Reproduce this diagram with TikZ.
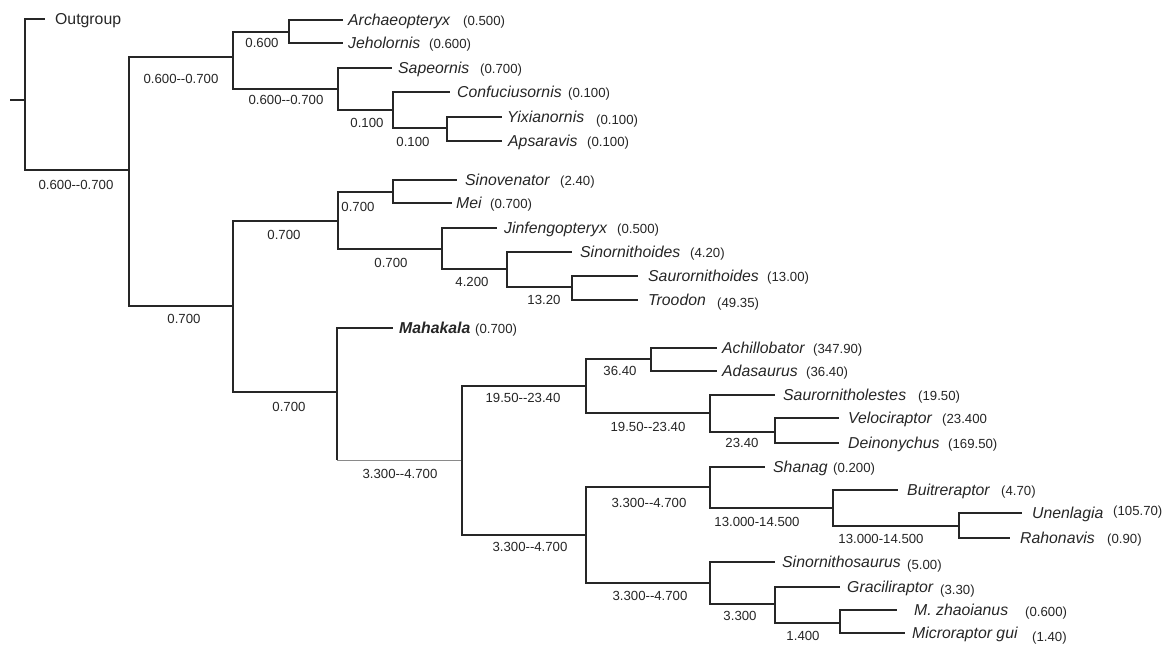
\documentclass[tikz,border=0pt]{standalone}
\usepackage{fontspec}
\setmainfont{Liberation Sans}
\definecolor{ink}{HTML}{262626}
\definecolor{thin}{HTML}{8A8A8A}
\newcommand\dd{-\kern0pt-}
\tikzset{
  br/.style={draw=ink, line width=1.5pt, line join=miter},
  lightbr/.style={draw=thin, line width=0.9pt},
  taxon/.style={anchor=west, inner sep=0pt, text height=11.3pt, text depth=0pt,
    font=\fontsize{15.8}{18}\selectfont\itshape, text=ink},
  val/.style={anchor=west, inner sep=0pt, text height=11.3pt, text depth=0pt,
    font=\fontsize{13.2}{15}\selectfont, text=ink},
  lab/.style={anchor=center, inner sep=0pt, text height=9.45pt, text depth=0pt,
    font=\fontsize{13.2}{15}\selectfont, text=ink},
}
% name, line end x, y, text x, text, value x, value, value dy
\newcommand\leafnode[8]{%
  \coordinate (#1) at (#2,#3);
  \node[taxon] (#1t) at (#4,#3) {#5};
  \node[val] (#1v) at (#6,#3+#8) {#7};
}
\begin{document}
\begin{tikzpicture}[x=1pt,y=-1pt]
\fill[white] (0,0) rectangle (1167,649);
\useasboundingbox (0,0) rectangle (1167,649);

% internal nodes
\coordinate (stub) at (10,100);
\coordinate (root) at (25,100);
\coordinate (A) at (129,170);
\coordinate (B) at (233,57);
\coordinate (C) at (289,32);
\coordinate (D) at (338,89);
\coordinate (E) at (393,110);
\coordinate (F) at (447,128);
\coordinate (G) at (233,306);
\coordinate (H) at (338,221);
\coordinate (I) at (393,192);
\coordinate (J) at (442,249);
\coordinate (K) at (507,269);
\coordinate (L) at (572,287);
\coordinate (M) at (337,392);
\coordinate (N) at (462,460);
\coordinate (O) at (586,386);
\coordinate (P) at (651,359);
\coordinate (Q) at (710,413);
\coordinate (R) at (775,432);
\coordinate (S) at (586,535);
\coordinate (T) at (710,487);
\coordinate (U) at (833,508);
\coordinate (V) at (959,526);
\coordinate (W) at (710,583);
\coordinate (X) at (775,604);
\coordinate (Y) at (840,623);

% leaves
\coordinate (og) at (45,19);
\node[taxon, font=\fontsize{15.8}{18}\selectfont\upshape] (ogt) at (55,19) {Outgroup};
\leafnode{arch}{343}{20}{348}{Archaeopteryx}{463}{(0.500)}{0}
\leafnode{jeho}{343}{43}{348}{Jeholornis}{429}{(0.600)}{0}
\leafnode{sape}{392}{68}{398}{Sapeornis}{480}{(0.700)}{0}
\leafnode{conf}{450}{92}{457}{Confuciusornis}{568}{(0.100)}{0}
\leafnode{yixi}{502}{117}{507}{Yixianornis}{596}{(0.100)}{2}
\leafnode{apsa}{502}{141}{508}{Apsaravis}{587}{(0.100)}{0}
\leafnode{sinov}{457}{180}{465}{Sinovenator}{560}{(2.40)}{0}
\leafnode{mei}{452}{203}{456}{Mei}{490}{(0.700)}{0}
\leafnode{jinf}{497}{228}{504}{Jinfengopteryx}{617}{(0.500)}{0}
\leafnode{sinorn}{572}{252}{580}{Sinornithoides}{690}{(4.20)}{0}
\leafnode{sauro}{638}{276}{648}{Saurornithoides}{767}{(13.00)}{0}
\leafnode{troo}{638}{300}{648}{Troodon}{717}{(49.35)}{2}
\coordinate (maha) at (393,328);
\node[taxon, font=\fontsize{15.8}{18}\selectfont\bfseries\itshape] (mahat) at (399,328) {Mahakala};
\node[val] (mahav) at (475,328) {(0.700)};
\leafnode{achi}{717}{348}{722}{Achillobator}{813}{(347.90)}{0}
\leafnode{adas}{717}{371}{722}{Adasaurus}{806}{(36.40)}{0}
\leafnode{saurl}{775}{395}{783}{Saurornitholestes}{918}{(19.50)}{0}
\leafnode{velo}{839}{418}{848}{Velociraptor}{942}{(23.400}{0}
\leafnode{dein}{839}{443}{848}{Deinonychus}{948}{(169.50)}{0}
\leafnode{shan}{765}{467}{773}{Shanag}{833}{(0.200)}{0}
\leafnode{buit}{898}{490}{907}{Buitreraptor}{1001}{(4.70)}{0}
\leafnode{unen}{1022}{513}{1032}{Unenlagia}{1113}{(105.70)}{-3}
\leafnode{raho}{1010}{538}{1020}{Rahonavis}{1107}{(0.90)}{0}
\leafnode{sinos}{775}{562}{782}{Sinornithosaurus}{907}{(5.00)}{2}
\leafnode{grac}{840}{587}{847}{Graciliraptor}{940}{(3.30)}{2}
\leafnode{mzha}{897}{610}{914}{M. zhaoianus}{1025}{(0.600)}{1}
\leafnode{micr}{905}{633}{912}{Microraptor gui}{1032}{(1.40)}{3}

% branches
\draw[br] (stub) -- (root);
\draw[br] (root) |- (og);
\draw[br] (root) |- (A);
\draw[br] (A) |- (B);
\draw[br] (A) |- (G);
\draw[br] (B) |- (C);
\draw[br] (B) |- (D);
\draw[br] (C) |- (arch);
\draw[br] (C) |- (jeho);
\draw[br] (D) |- (sape);
\draw[br] (D) |- (E);
\draw[br] (E) |- (conf);
\draw[br] (E) |- (F);
\draw[br] (F) |- (yixi);
\draw[br] (F) |- (apsa);
\draw[br] (G) |- (H);
\draw[br] (G) |- (M);
\draw[br] (H) |- (I);
\draw[br] (H) |- (J);
\draw[br] (I) |- (sinov);
\draw[br] (I) |- (mei);
\draw[br] (J) |- (jinf);
\draw[br] (J) |- (K);
\draw[br] (K) |- (sinorn);
\draw[br] (K) |- (L);
\draw[br] (L) |- (sauro);
\draw[br] (L) |- (troo);
\draw[br] (M) |- (maha);
\draw[br] (M) -- (M |- N);
\draw[lightbr] (M |- N) -- (N);
\draw[br] (N) |- (O);
\draw[br] (N) |- (S);
\draw[br] (O) |- (P);
\draw[br] (O) |- (Q);
\draw[br] (P) |- (achi);
\draw[br] (P) |- (adas);
\draw[br] (Q) |- (saurl);
\draw[br] (Q) |- (R);
\draw[br] (R) |- (velo);
\draw[br] (R) |- (dein);
\draw[br] (S) |- (T);
\draw[br] (S) |- (W);
\draw[br] (T) |- (shan);
\draw[br] (T) |- (U);
\draw[br] (U) |- (buit);
\draw[br] (U) |- (V);
\draw[br] (V) |- (unen);
\draw[br] (V) |- (raho);
\draw[br] (W) |- (sinos);
\draw[br] (W) |- (X);
\draw[br] (X) |- (grac);
\draw[br] (X) |- (Y);
\draw[br] (Y) |- (mzha);
\draw[br] (Y) |- (micr);

% branch labels
\node[lab] (lA) at (76,185) {0.600\dd0.700};
\node[lab] (lB) at (181,79) {0.600\dd0.700};
\node[lab] (lC) at (262,43) {0.600};
\node[lab] (lD) at (286,100) {0.600\dd0.700};
\node[lab] (lE) at (367,123) {0.100};
\node[lab] (lF) at (413,142) {0.100};
\node[lab] (lG) at (184,319) {0.700};
\node[lab] (lH) at (284,235) {0.700};
\node[lab] (lI) at (358,207) {0.700};
\node[lab] (lJ) at (391,263) {0.700};
\node[lab] (lK) at (472,282) {4.200};
\node[lab] (lL) at (544,300) {13.20};
\node[lab] (lM) at (289,407) {0.700};
\node[lab] (lN) at (400,474) {3.300\dd4.700};
\node[lab] (lO) at (523,398) {19.50\dd23.40};
\node[lab] (lP) at (620,371) {36.40};
\node[lab] (lQ) at (648,427) {19.50\dd23.40};
\node[lab] (lR) at (742,443) {23.40};
\node[lab] (lS) at (530,547) {3.300\dd4.700};
\node[lab] (lT) at (649,503) {3.300\dd4.700};
\node[lab] (lU) at (757,522) {13.000-14.500};
\node[lab] (lV) at (881,539) {13.000-14.500};
\node[lab] (lW) at (650,596) {3.300\dd4.700};
\node[lab] (lX) at (740,616) {3.300};
\node[lab] (lY) at (803,636) {1.400};
\end{tikzpicture}
\end{document}
